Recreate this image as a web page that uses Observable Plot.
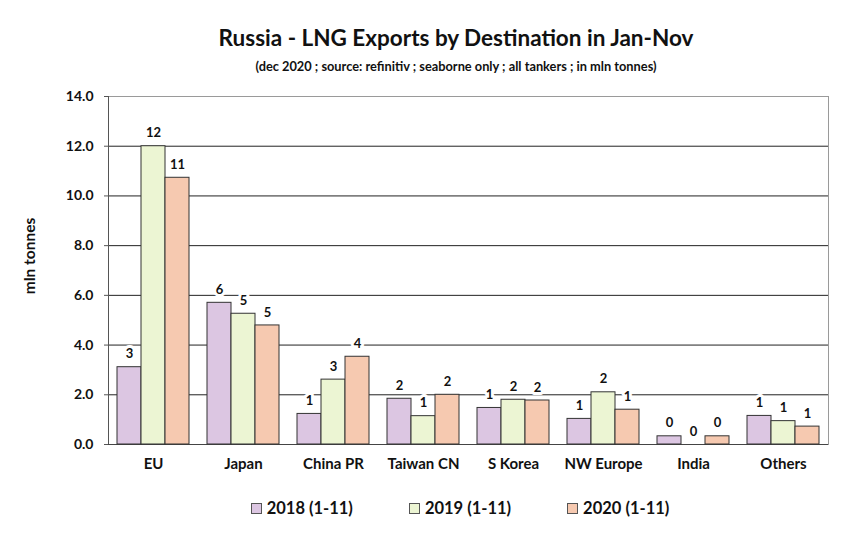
<!DOCTYPE html>
<html>
<head>
<meta charset="utf-8">
<script src="https://cdn.jsdelivr.net/npm/d3@7"></script>
<script src="https://cdn.jsdelivr.net/npm/@observablehq/plot@0.6"></script>
<style>
  html, body { margin: 0; padding: 0; background: #fff; }
  #wrap { position: relative; width: 857px; height: 541px; font-family: Lato, "Open Sans", sans-serif; color: #111; }
  .abs { position: absolute; left: 0; width: 857px; box-sizing: border-box; text-align: center; font-weight: bold; white-space: nowrap; }
  #title { top: 25px; line-height: 26px; font-size: 22.5px; padding-left: 55px; }
  #subtitle { top: 58px; line-height: 16px; font-size: 12.8px; padding-left: 55px; }
  #chart { position: absolute; top: 80px; left: 0; }
  #ylabel { position: absolute; left: 29px; top: 256px; transform: translate(-50%, -50%) rotate(-90deg); font-size: 15.5px; font-weight: bold; white-space: nowrap; }
  #legend { top: 497px; line-height: 22px; font-size: 16.5px; padding-left: 63px; display: flex; justify-content: center; gap: 56px; }
  .item { display: flex; align-items: center; }
  .sw { width: 9px; height: 9px; border: 1px solid #555; margin-right: 5px; }
</style>
</head>
<body>
<div id="wrap">
  <div id="title" class="abs">Russia - LNG Exports by Destination in Jan-Nov</div>
  <div id="subtitle" class="abs">(dec 2020 ; source: refinitiv ; seaborne only ; all tankers ; in mln tonnes)</div>
  <div id="ylabel">mln tonnes</div>
  <div id="chart"></div>
  <div id="legend" class="abs"></div>
</div>
<script>
const categories = ["EU", "Japan", "China PR", "Taiwan CN", "S Korea", "NW Europe", "India", "Others"];
const seriesNames = ["2018 (1-11)", "2019 (1-11)", "2020 (1-11)"];
const values2018 = [3.11, 5.70, 1.23, 1.84, 1.47, 1.03, 0.33, 1.15];
const values2019 = [12.0, 5.26, 2.61, 1.14, 1.80, 2.10, 0.0, 0.94];
const values2020 = [10.73, 4.79, 3.53, 2.0, 1.77, 1.40, 0.33, 0.72];
const seriesColors = ["#dcc6e2", "#ecf5d3", "#f6c9b0"];
const yTicks = [0, 2, 4, 6, 8, 10, 12, 14];

const seriesValues = [values2018, values2019, values2020];
const data = [];
categories.forEach((cat, i) => {
  seriesNames.forEach((s, j) => {
    data.push({cat, series: s, value: seriesValues[j][i]});
  });
});

const fmt = d3.format(".0f");

const chart = Plot.plot({
  width: 857,
  height: 400,
  marginTop: 16,
  marginBottom: 36,
  marginLeft: 107,
  marginRight: 28,
  style: {fontFamily: "Lato, 'Open Sans', sans-serif", fontWeight: "bold", color: "#111"},
  fx: {domain: categories, padding: 0, label: null},
  x: {domain: seriesNames, axis: null, paddingInner: 0, paddingOuter: 0.31},
  y: {domain: [0, 14], label: null},
  color: {domain: seriesNames, range: seriesColors},
  marks: [
    Plot.ruleY(yTicks.filter(t => t < 14), {stroke: "#222", strokeWidth: 1}),
    Plot.frame({facet: "super", stroke: "#9a9a9a"}),
    Plot.frame({facet: "super", anchor: "left", stroke: "#555"}),
    Plot.ruleY([0], {stroke: "#444"}),
    Plot.barY(data, {fx: "cat", x: "series", y: "value", fill: "series", stroke: "#333", strokeWidth: 1}),
    Plot.text(data, {fx: "cat", x: "series", y: "value", text: d => fmt(d.value), dy: -13,
      fill: "#111", stroke: "white", strokeWidth: 6, fontSize: 13, fontWeight: "bold"}),
    Plot.axisY({ticks: yTicks, tickFormat: d3.format(".1f"), tickSize: 4, tickPadding: 11, label: null, fontSize: 14, fontWeight: "bold", stroke: "#555"}),
    Plot.axisFx({anchor: "bottom", tickSize: 0, tickPadding: 14, label: null, fontSize: 15, fontWeight: "bold"})
  ]
});
document.getElementById("chart").appendChild(chart);

const legend = document.getElementById("legend");
seriesNames.forEach((s, j) => {
  const item = document.createElement("div");
  item.className = "item";
  const sw = document.createElement("span");
  sw.className = "sw";
  sw.style.background = seriesColors[j];
  const t = document.createElement("span");
  t.textContent = s;
  item.appendChild(sw);
  item.appendChild(t);
  legend.appendChild(item);
});
</script>
</body>
</html>
